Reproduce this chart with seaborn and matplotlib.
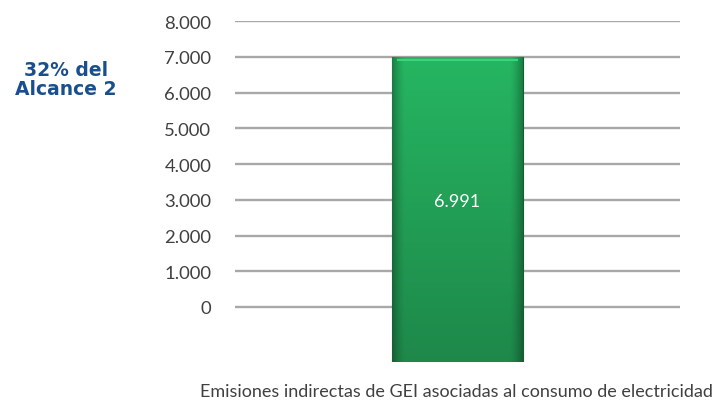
import numpy as np
import pandas as pd
import matplotlib
matplotlib.use("Agg")
import matplotlib.pyplot as plt
import seaborn as sns

# Data
categories = ["Emisiones indirectas de GEI asociadas al consumo de electricidad"]
values = [6991]
value_labels = ["6.991"]
y_ticks = [0, 1000, 2000, 3000, 4000, 5000, 6000, 7000, 8000]
y_tick_labels = ["0", "1.000", "2.000", "3.000", "4.000", "5.000", "6.000", "7.000", "8.000"]
side_note = "32% del\nAlcance 2"

sns.set_theme(style="white")
plt.rcParams["font.family"] = ["Lato", "DejaVu Sans"]

fig = plt.figure(figsize=(7.2, 4.06), dpi=100)
ax = fig.add_axes([0.3264, 0.1049, 0.618, 0.8409])

df = pd.DataFrame({"cat": categories, "val": values})
sns.barplot(data=df, x="cat", y="val", width=0.294, color="#22a455",
            edgecolor="#145c32", linewidth=0.8, ax=ax, zorder=3)

# depth of the column base below the zero line
floor = -1550
ax.set_ylim(floor, 8000)
ax.set_xlim(-0.5, 0.5)

for p, lab in zip(ax.patches, value_labels):
    top = p.get_y() + p.get_height()
    p.set_y(floor)
    p.set_height(top - floor)
    x0, w = p.get_x(), p.get_width()
    # shaded fill: lighter at the top, darker toward the sides
    ny, nx = 200, 120
    t = np.linspace(0, 1, ny)[:, None]
    s = np.linspace(-1, 1, nx)[None, :]
    top_c = np.array([38, 182, 98]) / 255
    bot_c = np.array([30, 136, 74]) / 255
    base = top_c[None, None, :] * (1 - t[..., None]) + bot_c[None, None, :] * t[..., None]
    side = 1 - 0.3 * np.clip((np.abs(s) - 0.8) / 0.2, 0, 1) ** 1.5
    img = base * side[..., None]
    im = ax.imshow(img, extent=[x0, x0 + w, floor, top], origin="upper",
                   aspect="auto", zorder=3.5, interpolation="bilinear")
    im.set_clip_path(p)
    ax.plot([x0 + 0.01, x0 + w - 0.01], [top - 90, top - 90], color="#3fd27c",
            lw=1.5, zorder=4, solid_capstyle="butt")
    ax.text(x0 + w / 2, 2960, lab, color="white", fontsize=13,
            ha="center", va="center", zorder=5)
ax.set_xlim(-0.5, 0.5)
ax.set_ylim(floor, 8000)

ax.set_yticks(y_ticks)
ax.set_yticklabels(y_tick_labels, fontsize=13.3, color="#404040")
ax.tick_params(axis="y", length=0, pad=17)
ax.set_xticks([])
ax.set_xlabel("")
ax.set_ylabel("")
for v in y_ticks:
    ax.axhline(v, color="#a8a8a8", lw=1.7, zorder=1)
for sp in ax.spines.values():
    sp.set_visible(False)
ax.patch.set_alpha(0)

fig.text(456 / 720, 1 - 392 / 406, categories[0], ha="center", va="center",
         fontsize=13, color="#404040")
fig.text(66 / 720, 1 - 80 / 406, side_note, ha="center", va="center",
         fontsize=13.5, fontweight="bold", color="#1a4f8f", linespacing=1.05,
         family="DejaVu Sans")

fig.savefig("out.png", dpi=100)
